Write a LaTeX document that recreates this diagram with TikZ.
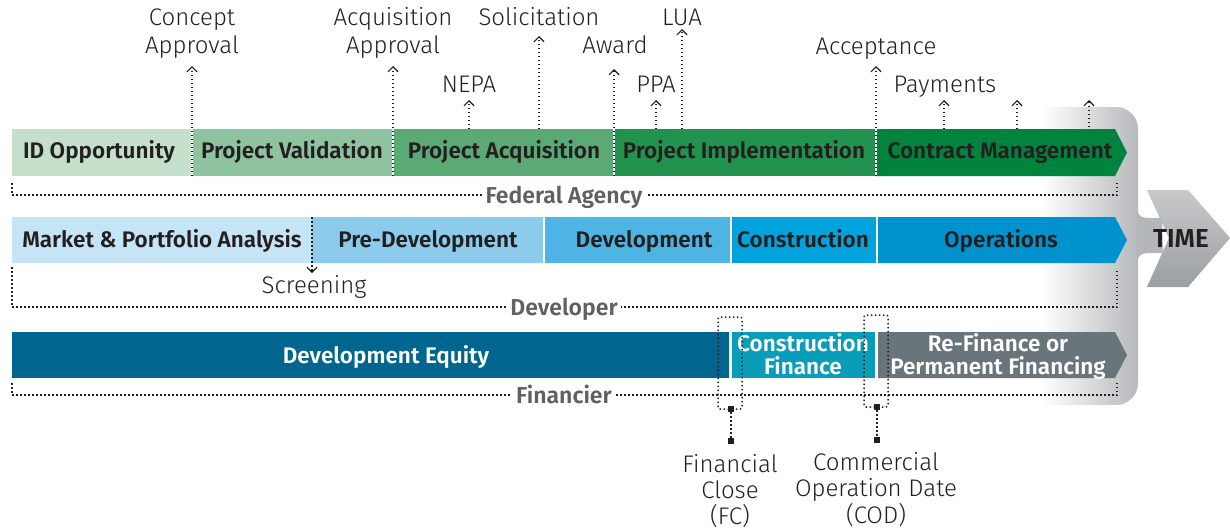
\documentclass[tikz,border=0pt]{standalone}
\usepackage{fontspec}
\setmainfont{Fira Sans Light}[BoldFont={Fira Sans SemiBold}]
\usetikzlibrary{arrows.meta}
\definecolor{gA}{HTML}{C4DFCA}
\definecolor{gB}{HTML}{8FC29E}
\definecolor{gC}{HTML}{5BA975}
\definecolor{gD}{HTML}{22924F}
\definecolor{gE}{HTML}{00833D}
\definecolor{bA}{HTML}{C5E4F6}
\definecolor{bB}{HTML}{8CCBEC}
\definecolor{bC}{HTML}{4DB4E3}
\definecolor{bD}{HTML}{00A3DB}
\definecolor{bE}{HTML}{0092CF}
\definecolor{fA}{HTML}{00668F}
\definecolor{fB}{HTML}{0A9DBA}
\definecolor{fC}{HTML}{69747B}
\definecolor{ink}{HTML}{231F20}
\definecolor{lblgray}{HTML}{5F6062}
\definecolor{panelgray}{HTML}{B4B7BA}
\definecolor{chevtop}{HTML}{C6C8CA}
\definecolor{chevbot}{HTML}{9A9DA0}
\begin{document}
\begin{tikzpicture}[x=1pt,y=-1pt,
  dotline/.style={ink,line width=1.5pt,dash pattern=on 1.5pt off 2.5pt},
  upmark/.style={dotline,-{Straight Barb[length=5pt,width=10pt,line width=1.2pt]}},
  toplbl/.style={anchor=base,align=center,inner sep=0,text=ink,font=\fontsize{24}{28}\selectfont},
  barlbl/.style={anchor=base,align=center,inner sep=0,font=\bfseries\fontsize{22.5}{23}\selectfont},
  grplbl/.style={anchor=base,inner sep=0,fill=white,text=lblgray,font=\bfseries\fontsize{23}{24}\selectfont},
  sq/.style={fill=ink,minimum size=6.5pt,inner sep=0}]
\useasboundingbox (0,0) rectangle (1230,531);
% background panel (gradient) and TIME arrow
\begin{scope}
\clip[rounded corners=22pt] (1000,107) rectangle (1138,405);
\foreach \i in {0,...,49} {
  \pgfmathtruncatemacro\p{\i*2}
  \fill[panelgray!\p!white] (1040+\i*2,107) rectangle (1042.6+\i*2,405);
}
\end{scope}
\begin{scope}
\clip (1147,190) -- (1188,190) -- (1230,238) -- (1188,287) -- (1147,287) -- (1169,238) -- cycle;
\foreach \i in {0,...,32} {
  \pgfmathtruncatemacro\p{\i*3}
  \fill[chevbot!\p!chevtop] (1140,190+\i*3) rectangle (1232,193.6+\i*3);
}
\end{scope}
\fill[panelgray] (1137,205) .. controls (1137,215) and (1140,218) .. (1150,218) -- (1162,218) -- (1163,253) -- (1150,253) .. controls (1140,253) and (1137,256) .. (1137,266) -- cycle;
\node[inner sep=0,font=\bfseries\fontsize{26}{28}\selectfont,text=ink,anchor=base] (time) at (1181,247) {TIME};
% row 1 : federal agency
\fill[gA] (12,129) rectangle (192,176);
\fill[gB] (192,129) rectangle (393,176);
\fill[gC] (393,129) rectangle (614,176);
\fill[gD] (614,129) rectangle (876,176);
\fill[gE] (876,129) -- (1115,129) -- (1127,152.5) -- (1115,176) -- (876,176) -- cycle;
\foreach \x in {192,393,614,876} \draw[white,line width=1.2pt] (\x,129) -- (\x,176);
\node[barlbl,text=ink] (idop) at (99,158) {ID Opportunity};
\node[barlbl,text=ink] (pval) at (292,158) {Project Validation};
\node[barlbl,text=ink] (pacq) at (504,158) {Project Acquisition};
\node[barlbl,text=ink] (pimp) at (744,158) {Project Implementation};
\node[barlbl,text=ink] (cman) at (1000,158) {Contract Management};
% row 2 : developer
\fill[bA] (12,217) rectangle (312,263);
\fill[bB] (312,217) rectangle (543,263);
\fill[bC] (545,217) rectangle (730,263);
\fill[bD] (732,217) rectangle (876,263);
\fill[bE] (878,217) -- (1115,217) -- (1127,240) -- (1115,263) -- (878,263) -- cycle;
\node[barlbl,text=ink] (mpa) at (162,247) {Market \& Portfolio Analysis};
\node[barlbl,text=ink] (pdev) at (428,247) {Pre-Development};
\node[barlbl,text=ink] (dev) at (644,247) {Development};
\node[barlbl,text=ink] (cons) at (803,247) {Construction};
\node[barlbl,text=ink] (ops) at (1001,247) {Operations};
% row 3 : financier
\fill[fA] (12,332) rectangle (729,378);
\fill[fB] (732,332) rectangle (875,378);
\fill[fC] (878,332) -- (1115,332) -- (1127,355) -- (1115,378) -- (878,378) -- cycle;
\node[barlbl,text=white] (deq) at (386,363) {Development Equity};
\node[barlbl,text=white] (cfin) at (803,374) {Construction\\Finance};
\node[barlbl,text=white] (refin) at (998,374) {Re-Finance or\\Permanent Financing};
% group brackets
\draw[dotline] (12,183) -- (12,195) -- (1117,195) -- (1117,182);
\node[grplbl] (fed) at (564,203) {\,Federal Agency\,};
\draw[dotline] (12,267) -- (12,307) -- (1117,307) -- (1117,270);
\node[grplbl] (devr) at (564,315) {\,Developer\,};
\draw[dotline] (12,383) -- (12,395) -- (1117,395) -- (1117,380);
\node[grplbl] (finr) at (564,403) {\,Financier\,};
% milestone labels
\node[toplbl] (ca) at (192,53) {Concept\\Approval};
\node[toplbl] (aa) at (393,53) {Acquisition\\Approval};
\node[toplbl] (sol) at (539,25) {Solicitation};
\node[toplbl] (lua) at (682,25) {LUA};
\node[toplbl] (awd) at (615,53) {Award};
\node[toplbl] (acc) at (876,54) {Acceptance};
\node[toplbl] (nepa) at (469,92) {NEPA};
\node[toplbl] (ppa) at (656,92) {PPA};
\node[toplbl] (pay) at (945,92) {Payments};
\node[toplbl] (scr) at (314,293) {Screening};
% arrow tips
\coordinate (caT) at (192,66);
\coordinate (aaT) at (393,66);
\coordinate (solT) at (539,36);
\coordinate (luaT) at (682,29);
\coordinate (awdT) at (614,69);
\coordinate (accT) at (876,66);
\coordinate (nepaT) at (469,100);
\coordinate (ppaT) at (656,100);
\coordinate (payT1) at (944,100);
\coordinate (payT2) at (1017,100);
\coordinate (payT3) at (1089,100);
\coordinate (scrT) at (312,273);
\draw[upmark] (192,176) -- (caT);
\draw[upmark] (393,176) -- (aaT);
\draw[upmark] (614,176) -- (awdT);
\draw[upmark] (876,176) -- (accT);
\draw[upmark] (539,129) -- (solT);
\draw[upmark] (682,129) -- (luaT);
\draw[upmark] (469,129) -- (nepaT);
\draw[upmark] (656,129) -- (ppaT);
\draw[upmark] (944,129) -- (payT1);
\draw[upmark] (1017,129) -- (payT2);
\draw[upmark] (1089,127) -- (payT3);
\draw[upmark] (312,217) -- (scrT);
% financial close / COD markers
\draw[dotline,rounded corners=2pt] (731,409) -- (718,409) -- (718,317) -- (742,317) -- (742,409) -- cycle;
\node[sq] (fc1) at (731,409) {};
\node[sq] (fc2) at (731,441) {};
\draw[dotline] (fc1) -- (fc2);
\node[toplbl,font=\fontsize{24}{26}\selectfont] (fcl) at (730,524) {Financial\\Close\\(FC)};
\draw[dotline,rounded corners=2pt] (877,407) -- (864,407) -- (864,315) -- (888,315) -- (888,407) -- cycle;
\node[sq] (cod1) at (877,407) {};
\node[sq] (cod2) at (877,440) {};
\draw[dotline] (cod1) -- (cod2);
\node[toplbl,font=\fontsize{24}{26.5}\selectfont] (codl) at (876,523) {Commercial\\Operation Date\\(COD)};
\end{tikzpicture}
\end{document}
